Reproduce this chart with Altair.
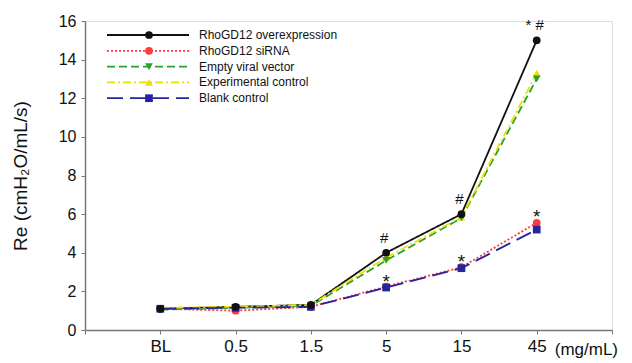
import altair as alt
import pandas as pd

# ---- data ----
doses = ["BL", "0.5", "1.5", "5", "15", "45"]
dose_pos = [1, 2, 3, 4, 5, 6]
series = ["RhoGD12 overexpression", "RhoGD12 siRNA", "Empty viral vector",
          "Experimental control", "Blank control"]
overexpression = [1.1, 1.2, 1.3, 4.0, 6.0, 15.0]
sirna = [1.1, 1.0, 1.2, 2.25, 3.25, 5.55]
empty_vector = [1.05, 1.15, 1.25, 3.6, 5.8, 13.0]
experimental = [1.15, 1.2, 1.3, 3.75, 5.85, 13.3]
blank = [1.1, 1.15, 1.2, 2.2, 3.2, 5.2]

hash_pos = [4, 5, 6]
hash_text = ["#", "#", "* #"]
hash_vals = [4.0, 6.0, 15.0]
star_pos = [4, 5, 6]
star_text = ["*", "*", "*"]
star_vals = [2.2, 3.2, 5.55]

# ---- styles ----
colors = ["#111111", "#ff3a3a", "#2ca02c", "#eee000", "#25259e"]
dashes = [[1, 0], [2, 2], [8, 4], [8, 3, 2, 3], [16, 7]]
shapes = ["circle", "circle", "triangle-down", "triangle-up", "square"]
FONT = "Liberation Sans"

rows = []
for name, vals in zip(series, [overexpression, sirna, empty_vector, experimental, blank]):
    for p, d, v in zip(dose_pos, doses, vals):
        rows.append({"series": name, "pos": p, "dose": d, "value": v})
df = pd.DataFrame(rows)

draw_order = {"Experimental control": 0, "Empty viral vector": 1, "RhoGD12 siRNA": 2,
              "Blank control": 3, "RhoGD12 overexpression": 4}
df["order"] = df["series"].map(draw_order)

color_scale = alt.Scale(domain=series, range=colors)
dash_scale = alt.Scale(domain=series, range=dashes)
shape_scale = alt.Scale(domain=series, range=shapes)

label_expr = "['', 'BL', '0.5', '1.5', '5', '15', '45', ''][datum.value]"

x_axis = alt.Axis(values=list(range(8)), labelExpr=label_expr, title=None,
                  grid=False, labelFontSize=17, labelFont=FONT, labelColor="#111",
                  domainColor="#777", domainWidth=1.5, tickColor="#777",
                  tickSize=4, labelPadding=4, labelFlush=False, labelOverlap=False)
y_axis = alt.Axis(values=list(range(0, 17, 2)), title="Re (cmH₂O/mL/s)",
                  grid=False, labelFontSize=16, labelFont=FONT, labelColor="#111",
                  labelOverlap=False, labelFlush=False,
                  titleFont=FONT, titleFontSize=19, titleFontWeight="normal",
                  titleColor="#111", titlePadding=28,
                  domainColor="#777", domainWidth=1.5, tickColor="#777",
                  tickSize=4, labelPadding=5)
x_scale = alt.Scale(domain=[0, 7], nice=False)
y_scale = alt.Scale(domain=[0, 16], nice=False)


def X():
    return alt.X("pos:Q", scale=x_scale, axis=x_axis)


def Y():
    return alt.Y("value:Q", scale=y_scale, axis=y_axis)


base = alt.Chart(df)

lines = base.mark_line(strokeWidth=1.8).encode(
    x=X(), y=Y(),
    color=alt.Color("series:N", scale=color_scale, legend=None),
    strokeDash=alt.StrokeDash("series:N", scale=dash_scale, legend=None),
    detail="series:N",
    order=alt.Order("pos:Q"),
)
points = base.mark_point(filled=True, size=60, opacity=1).encode(
    x=X(), y=Y(),
    color=alt.Color("series:N", scale=color_scale, legend=None),
    shape=alt.Shape("series:N", scale=shape_scale, legend=None),
    order=alt.Order("order:Q"),
)

hash_df = pd.DataFrame({"pos": hash_pos, "value": hash_vals, "t": hash_text})
star_df = pd.DataFrame({"pos": star_pos, "value": star_vals, "t": star_text})
hash_marks = alt.Chart(hash_df).mark_text(font=FONT, fontSize=15, dy=-15, dx=-2, color="#111").encode(
    x=X(), y=Y(), text="t:N")
star_marks = alt.Chart(star_df).mark_text(font=FONT, fontSize=19, dy=-6, color="#111").encode(
    x=X(), y=Y(), text="t:N")

unit_df = pd.DataFrame({"pos": [6], "t": ["(mg/mL)"]})
unit_text = alt.Chart(unit_df).mark_text(font=FONT, fontSize=17, align="left", baseline="middle",
                                         dx=18, color="#111").encode(
    x=X(), y=alt.value(329), text="t:N")

# ---- legend (drawn manually) ----
leg_df = pd.DataFrame({"series": series, "row": list(range(5))})
leg = alt.Chart(leg_df).transform_calculate(ly="14 + 15.8 * datum.row")
leg_lines = leg.mark_rule(strokeWidth=1.8).encode(
    x=alt.value(22), x2=alt.value(104), y=alt.Y("ly:Q", scale=None),
    color=alt.Color("series:N", scale=color_scale, legend=None),
    strokeDash=alt.StrokeDash("series:N", scale=dash_scale, legend=None),
)
leg_points = leg.mark_point(filled=True, size=60, opacity=1).encode(
    x=alt.value(64), y=alt.Y("ly:Q", scale=None),
    color=alt.Color("series:N", scale=color_scale, legend=None),
    shape=alt.Shape("series:N", scale=shape_scale, legend=None),
)
leg_text = leg.mark_text(font=FONT, fontSize=12, align="left", baseline="middle", color="#111").encode(
    x=alt.value(114), y=alt.Y("ly:Q", scale=None), text="series:N")

chart = alt.layer(lines, points, hash_marks, star_marks, unit_text,
                  leg_lines, leg_points, leg_text).properties(
    width=527, height=309,
    autosize=alt.AutoSizeParams(type="none"),
    padding={"left": 85, "top": 21, "right": 20, "bottom": 33},
).configure_view(stroke=None).configure_axis(labelOverlap=False).configure(background="white")

chart.save("out.html", embed_options={"renderer": "svg", "actions": False})
